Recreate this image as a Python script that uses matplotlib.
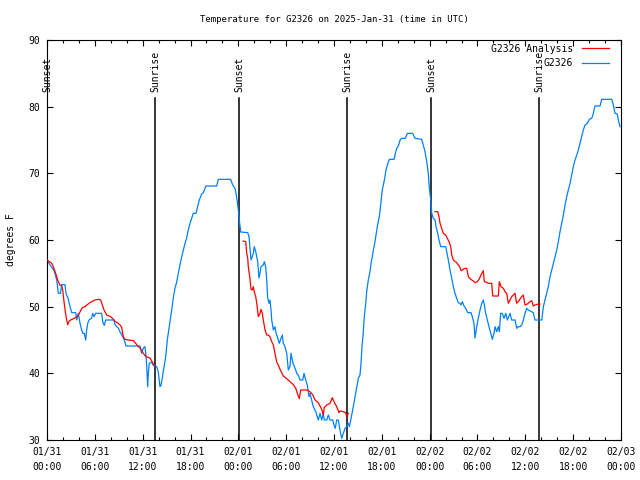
import numpy as np
import matplotlib
matplotlib.use("Agg")
import matplotlib.pyplot as plt

plt.rcParams["font.family"] = ["DejaVu Sans Mono"]

# hours since 2025-01-31 00:00 UTC
obs_hours = [
    0.00, 0.38, 0.84, 1.00, 1.22, 1.42, 1.69, 1.84, 2.26, 2.38, 2.63, 2.89, 3.10, 3.60,
    3.73, 3.93, 4.01, 4.14, 4.35, 4.48, 4.68, 4.85, 4.98, 5.11, 5.27, 5.61, 5.73, 5.90,
    6.11, 6.86, 6.99, 7.19, 7.36, 8.40, 8.53, 8.74, 8.94, 9.16, 9.28, 9.50, 9.70, 9.91,
    11.67, 11.88, 12.08, 12.29, 12.42, 12.51, 12.63, 12.71, 12.83, 13.13, 13.33, 13.55,
    13.76, 13.96, 14.17, 14.30, 14.46, 14.68, 14.89, 15.09, 15.34, 15.64, 15.84, 16.06,
    16.27, 16.47, 16.68, 16.90, 17.10, 17.31, 17.52, 17.72, 17.94, 18.15, 18.35, 18.69,
    18.90, 19.10, 19.41, 19.61, 19.94, 21.29, 21.49, 23.04, 23.29, 23.58, 23.71, 23.87,
    24.00, 24.12, 24.30, 25.18, 25.34, 25.59, 25.75, 25.88, 26.00, 26.18, 26.31, 26.43,
    26.59, 26.72, 26.84, 27.13, 27.26, 27.43, 27.56, 27.68, 27.85, 27.97, 28.10, 28.19,
    28.39, 28.60, 28.73, 28.89, 29.14, 29.35, 29.52, 29.64, 29.85, 30.07, 30.27, 30.48,
    30.61, 30.77, 30.86, 31.20, 31.32, 31.52, 31.74, 32.08, 32.24, 32.45, 32.65, 32.87,
    32.99, 33.20, 33.40, 33.71, 34.03, 34.25, 34.46, 34.66, 34.78, 35.09, 35.29, 35.50,
    35.84, 36.00, 36.16, 36.34, 36.54, 36.75, 36.97, 37.17, 37.38, 37.59, 37.80, 37.92,
    38.10, 38.26, 38.42, 38.64, 38.85, 39.05, 39.26, 39.39, 39.51, 39.68, 39.80, 39.98,
    40.10, 40.30, 40.52, 40.64, 40.81, 40.93, 41.11, 41.27, 41.43, 41.68, 41.86, 42.02,
    42.19, 42.36, 42.52, 42.69, 42.94, 43.53, 43.69, 43.87, 44.12, 44.28, 44.49, 44.95,
    45.20, 45.87, 46.16, 47.00, 47.20, 47.42, 47.63, 47.83, 47.96, 48.13, 48.26, 48.46,
    48.67, 48.80, 49.01, 49.17, 49.39, 50.01, 50.14, 50.34, 50.55, 50.77, 50.97, 51.18,
    51.39, 51.59, 51.81, 51.93, 52.10, 52.31, 52.52, 52.77, 53.19, 53.35, 53.56, 53.69,
    53.90, 54.10, 54.32, 54.53, 54.73, 54.86, 55.03, 55.23, 55.44, 55.66, 55.86, 56.07,
    56.20, 56.41, 56.61, 56.74, 56.91, 57.11, 57.33, 57.54, 57.74, 58.08, 58.29, 58.71,
    58.92, 59.12, 59.33, 59.55, 59.75, 59.96, 60.17, 60.37, 61.00, 61.21, 62.06, 62.26,
    62.47, 62.68, 62.88, 63.10, 63.31, 63.51, 63.72, 63.94, 64.14, 64.35, 64.56, 64.77,
    64.98, 65.19, 65.39, 65.61, 65.82, 66.02, 66.23, 66.45, 66.65, 66.86, 67.07, 67.27,
    67.49, 67.78, 68.03, 68.33, 68.53, 68.74, 69.37, 69.58, 70.84, 71.04, 71.25, 71.54,
    71.66, 71.88,
]
obs_temp = [
    57.0, 56.25, 55.5, 55.0, 54.0, 52.0, 52.0, 53.3, 53.3, 52.0, 51.3, 50.0, 49.1, 49.1,
    48.0, 49.0, 48.5, 47.5, 46.5, 46.0, 46.0, 45.0, 46.5, 47.5, 48.0, 48.3, 49.0, 48.5,
    49.0, 49.0, 47.7, 47.2, 48.0, 48.0, 47.3, 47.0, 46.8, 46.2, 46.0, 45.5, 45.0, 44.1,
    44.1, 43.0, 43.8, 44.0, 42.7, 41.0, 38.0, 40.0, 41.5, 41.7, 41.2, 41.1,
    41.0, 40.2, 38.0, 38.2, 39.3, 41.0, 42.5, 45.0, 47.0, 49.5, 51.3, 52.8,
    53.7, 55.0, 56.3, 57.5, 58.5, 59.5, 60.3, 61.5, 62.5, 63.25, 64.0, 64.0,
    65.0, 66.0, 66.9, 67.1, 68.1, 68.1, 69.1, 69.1, 68.25, 67.75, 67.0, 65.75,
    64.5, 63.0, 61.2, 61.1, 60.5, 57.0, 57.5, 58.0, 59.0, 58.25, 57.5, 56.75,
    54.3, 55.0, 56.0, 56.25, 56.75, 56.0, 54.0, 51.3, 50.5, 51.0, 49.5, 48.0,
    46.5, 47.0, 46.0, 45.5, 44.5, 45.25, 45.75, 44.5, 44.0, 43.0, 40.5, 41.0,
    43.0, 42.0, 41.5, 40.5, 40.0, 39.75, 39.0, 39.0, 40.0, 39.0, 38.25, 36.5,
    37.0, 36.0, 35.0, 34.25, 33.0, 34.0, 33.0, 34.0, 33.0, 33.0, 33.75, 33.0,
    33.0, 32.25, 31.75, 33.0, 33.0, 31.5, 30.25, 31.0, 31.75, 32.0, 32.5, 32.0,
    33.0, 34.0, 35.0, 36.5, 38.0, 39.25, 39.75, 41.5, 44.0, 46.25, 48.5, 50.5,
    52.25, 54.0, 55.25, 56.5, 57.5, 58.5, 59.5, 60.75, 62.0, 63.5, 65.25, 67.25,
    68.25, 69.25, 70.5, 71.25, 72.1, 72.1, 73.0, 73.75, 74.25, 75.0, 75.25, 75.25,
    76.0, 76.0, 75.25, 75.1, 74.25, 73.25, 71.75, 70.0, 67.8, 66.0, 64.0, 63.25,
    63.0, 62.0, 61.0, 60.0, 59.0, 59.0, 58.25, 57.0, 55.5, 54.25, 53.0, 52.0,
    51.25, 50.6, 50.5, 50.25, 50.75, 50.1, 49.75, 49.1, 49.1, 48.5, 47.5, 45.3,
    47.0, 48.25, 49.5, 50.5, 51.0, 50.25, 49.0, 48.0, 47.0, 46.0, 45.1, 46.0,
    47.0, 46.25, 47.0, 46.25, 49.0, 49.0, 48.25, 49.0, 48.0, 49.0, 48.0, 48.0,
    46.75, 47.0, 47.0, 47.25, 48.0, 49.0, 49.75, 49.5, 49.1, 48.0, 48.0, 50.0,
    51.0, 52.0, 53.0, 54.5, 55.5, 56.5, 57.5, 58.5, 59.75, 61.25, 62.5, 63.75,
    65.25, 66.5, 67.5, 68.5, 69.75, 71.0, 72.0, 72.75, 73.5, 74.5, 75.5, 76.5,
    77.25, 77.5, 78.1, 78.25, 79.0, 80.1, 80.1, 81.1, 81.1, 80.25, 79.0, 78.9,
    78.0, 77.0,
]

# analysis only covers the three nights
ana_hours_1 = [
    0.00, 0.59, 0.79, 1.00, 1.22, 1.42, 1.63, 1.84, 1.97, 2.13, 2.30, 2.47, 2.60, 2.76,
    2.97, 3.30, 3.64, 3.93, 4.14, 4.43, 4.77, 5.06, 5.39, 5.68, 6.02, 6.44, 6.74, 6.94,
    7.19, 7.49, 7.99, 8.24, 8.53, 8.82, 9.16, 9.37, 9.57, 9.78, 10.20, 10.83, 11.13,
    11.45, 11.67, 12.08, 12.42, 12.71, 12.92, 13.26, 13.46,
]
ana_temp_1 = [
    57.0, 56.5, 56.0, 55.3, 54.5, 53.7, 53.2, 53.2, 52.5, 50.8, 49.2, 48.0, 47.3, 47.8,
    48.0, 48.2, 48.4, 48.75, 49.2, 49.85, 50.0, 50.3, 50.6, 50.8, 51.0, 51.1, 51.0, 50.25,
    49.4, 48.75, 48.5, 48.2, 47.8, 47.6, 47.25, 46.9, 45.5, 45.1, 45.0, 44.9, 44.5,
    44.0, 43.8, 43.0, 42.5, 42.4, 42.3, 41.6, 41.1,
]
ana_hours_2 = [
    24.62, 24.93, 25.05, 25.18, 25.25, 25.43, 25.59, 25.75, 25.88, 26.00, 26.18, 26.31,
    26.51, 26.72, 26.84, 27.01, 27.13, 27.35, 27.56, 27.76, 27.97, 28.19, 28.39, 28.60,
    28.81, 29.01, 29.23, 29.64, 30.07, 30.48, 30.90, 31.20, 31.40, 31.65, 31.82, 32.65,
    32.99, 33.33, 33.62, 34.03, 34.25, 34.46, 34.66, 34.78, 35.09, 35.50, 35.79, 36.00,
    36.34, 36.63, 36.75, 37.17, 37.47, 37.59, 37.80,
]
ana_temp_2 = [
    59.85, 59.75, 58.0, 57.25, 56.0, 54.5, 52.6, 52.5, 53.0, 52.25, 51.5, 50.5,
    48.5, 49.0, 49.6, 49.0, 48.0, 46.5, 45.75, 45.75, 45.5, 44.75, 44.25, 43.0,
    41.7, 41.25, 40.6, 39.6, 39.2, 38.75, 38.3, 37.75, 37.0, 36.2, 37.5, 37.5,
    37.25, 36.8, 36.0, 35.6, 35.1, 34.6, 33.75, 34.9, 35.25, 35.5, 36.35, 35.75,
    35.0, 34.1, 34.35, 34.25, 34.1, 33.5, 34.0,
]
ana_hours_3 = [
    48.67, 49.01, 49.17, 49.30, 49.51, 49.71, 50.01, 50.21, 50.43, 50.64, 50.77, 50.97,
    51.39, 51.59, 51.81, 51.93, 52.22, 52.43, 52.65, 52.85, 53.15, 53.48, 53.69, 53.98,
    54.19, 54.44, 54.73, 54.86, 55.16, 55.36, 55.78, 55.91, 56.61, 56.74, 56.95, 57.24,
    57.45, 57.66, 57.87, 58.08, 58.29, 58.49, 58.71, 58.80, 58.92, 59.21, 59.46, 59.75,
    59.96, 60.25, 60.59, 60.80, 61.00, 61.21, 61.63, 61.84,
]
ana_temp_3 = [
    64.25, 64.25, 63.5, 62.5, 61.75, 61.0, 60.75, 60.25, 59.75, 59.0, 57.75, 57.0,
    56.6, 56.25, 55.9, 55.4, 55.6, 55.75, 55.75, 54.5, 54.1, 53.85, 53.6, 53.75,
    54.1, 54.75, 55.4, 53.75, 53.65, 53.5, 53.5, 51.6, 51.6, 53.75, 53.0, 52.75,
    52.25, 52.0, 50.5, 51.0, 51.5, 51.75, 52.0, 51.25, 50.5, 50.9, 51.4, 51.75,
    50.25, 50.4, 50.75, 50.9, 50.1, 50.25, 50.4, 50.4,
]

sun_hours = [0.0, 13.55, 24.08, 37.63, 48.17, 61.72]
sun_labels = ["Sunset", "Sunrise", "Sunset", "Sunrise", "Sunset", "Sunrise"]

tick_hours = list(range(0, 73, 6))
tick_labels = [
    "01/31\n00:00", "01/31\n06:00", "01/31\n12:00", "01/31\n18:00",
    "02/01\n00:00", "02/01\n06:00", "02/01\n12:00", "02/01\n18:00",
    "02/02\n00:00", "02/02\n06:00", "02/02\n12:00", "02/02\n18:00",
    "02/03\n00:00",
]

RED = "#ff0000"
BLUE = "#0080ff"

fig = plt.figure(figsize=(6.4, 4.8), dpi=100)
ax = fig.add_axes([47 / 640, 40 / 480, 574 / 640, 400 / 480])

for h, lab in zip(sun_hours, sun_labels):
    ax.axvline(h, ymin=0, ymax=0.855, color="black", lw=1.1, zorder=1)
    ax.text(h, 0.87, lab, transform=ax.get_xaxis_transform(), rotation=90,
            ha="center", va="bottom", fontsize=7, clip_on=False)

ana_h = ana_hours_1 + [np.nan] + ana_hours_2 + [np.nan] + ana_hours_3
ana_t = ana_temp_1 + [np.nan] + ana_temp_2 + [np.nan] + ana_temp_3
ax.plot(ana_h, ana_t, color=RED, lw=0.9, label="G2326 Analysis", zorder=3)
ax.plot(obs_hours, obs_temp, color=BLUE, lw=0.9, label="G2326", zorder=2)

ax.set_xlim(0, 72)
ax.set_ylim(30, 90)
ax.set_xticks(tick_hours)
ax.set_xticklabels(tick_labels, fontsize=7, linespacing=1.6)
ax.set_xticks(range(0, 73, 2), minor=True)
ax.set_yticks(range(30, 91, 10))
ax.tick_params(labelsize=7)
ax.tick_params(which="major", direction="in", length=4.5, width=0.8,
               top=True, right=True, pad=5)
ax.tick_params(which="minor", direction="in", length=2.5, width=0.8,
               top=True, right=False)
for s in ax.spines.values():
    s.set_linewidth(0.8)

ax.set_ylabel("degrees F", fontsize=7, labelpad=9)
ax.set_title("Temperature for G2326 on 2025-Jan-31 (time in UTC)", fontsize=6.5, pad=13)

ax.legend(loc="upper right", bbox_to_anchor=(0.986, 1.0), markerfirst=False,
          frameon=False, fontsize=7, handlelength=2.8, labelspacing=0.45,
          borderaxespad=0.0, handletextpad=0.9)

fig.savefig("out.png", dpi=100)
